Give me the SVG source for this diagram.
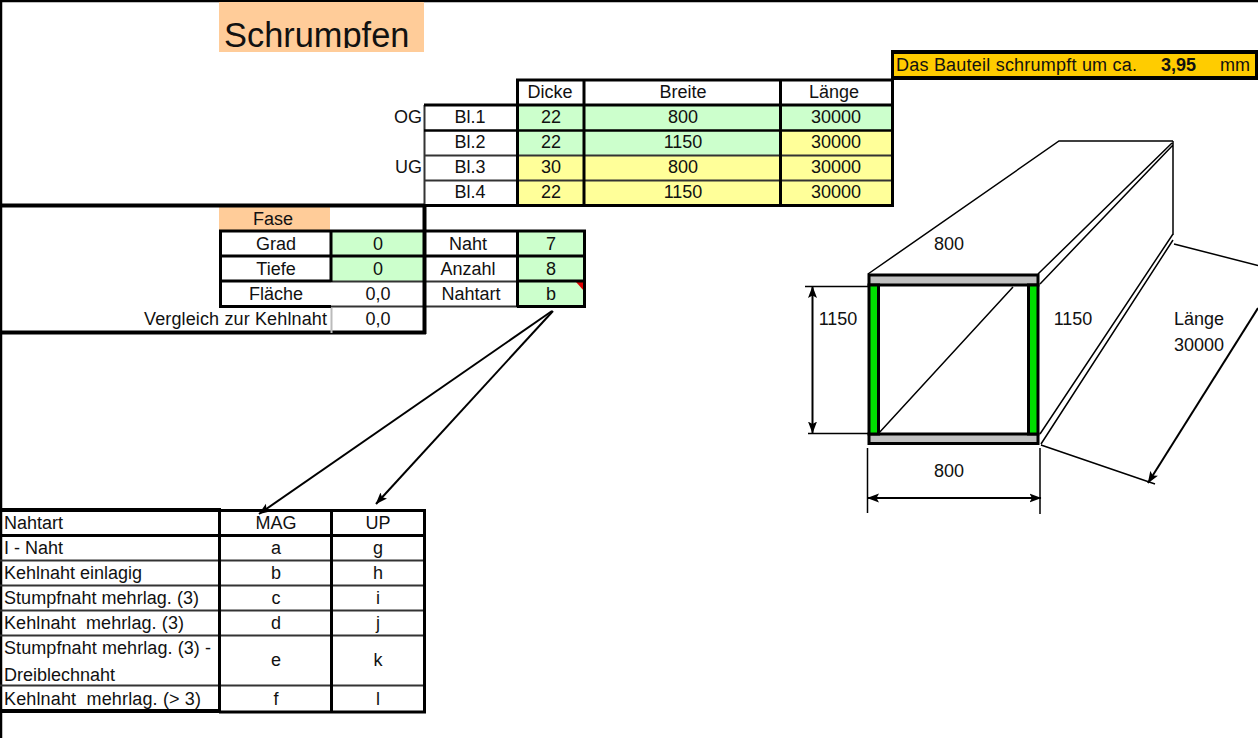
<svg xmlns="http://www.w3.org/2000/svg" width="1258" height="738" viewBox="0 0 1258 738">
<style>
text{font-family:"Liberation Sans",Arial,sans-serif;font-size:18px;fill:#111}
.m{text-anchor:middle}.e{text-anchor:end}
.g{fill:#ccffcc}.y{fill:#ffff99}.o{fill:#ffcc99}
.b3{stroke:#000;stroke-width:3;fill:none}
.b2{stroke:#000;stroke-width:2.400;fill:none}
.d2{stroke:#333;stroke-width:2;fill:none}
.b4{stroke:#000;stroke-width:4;fill:none}
.t{stroke:#000;stroke-width:1.500;fill:none}
.a{stroke:#000;stroke-width:2;fill:none}
</style>
<defs>
<clipPath id="tc"><rect x="219" y="2" width="205" height="46"/></clipPath>
<marker id="ah" viewBox="0 0 12 10" refX="11.500" refY="5" markerWidth="12" markerHeight="10" markerUnits="userSpaceOnUse" orient="auto-start-reverse"><path d="M0 0.500L12 5L0 9.500L2.500 5Z" fill="#000"/></marker>
</defs>
<rect width="1258" height="738" fill="#fff"/>
<g id="frame"><path d="M0 1H1258M1 0V738" stroke="#000" stroke-width="2.500" fill="none"/></g>

<g id="title"><rect class="o" x="219" y="2" width="205" height="50"/>
<text x="224" y="47" style="font-size:34.400px" clip-path="url(#tc)">Schrumpfen</text></g>

<g id="result">
<rect x="891" y="50" width="367" height="30" fill="#000"/>
<rect x="894" y="54" width="361" height="22" fill="#ffcc00"/>
<text x="896" y="71" textLength="241">Das Bauteil schrumpft um ca.</text>
<text x="1161" y="71" font-weight="bold">3,95</text>
<text x="1220" y="71">mm</text></g>

<g id="sheet-table">
<rect class="g" x="518" y="105" width="66" height="50"/>
<rect class="y" x="518" y="155" width="66" height="50"/>
<rect class="g" x="585" y="105" width="195" height="50"/>
<rect class="y" x="585" y="155" width="195" height="50"/>
<rect class="g" x="781" y="105" width="111" height="25"/>
<rect class="y" x="781" y="130" width="111" height="75"/>
<path class="d2" d="M424 155.500H892M424 180.500H892M424.500 105V205"/>
<path class="b2" d="M424 130.500H892"/>
<path class="b3" d="M516 80H894M424 105H894M424 205.500H894M517.500 80V206M584 80V206M780.500 80V206M892.500 80V206"/>
<text class="e" x="422" y="123">OG</text><text class="e" x="422" y="173">UG</text>
<text class="m" x="550" y="98">Dicke</text><text class="m" x="683" y="98">Breite</text><text class="m" x="834" y="98">Länge</text>
<text class="m" x="470" y="123">Bl.1</text><text class="m" x="551" y="123">22</text><text class="m" x="683" y="123">800</text><text class="m" x="836" y="123">30000</text>
<text class="m" x="470" y="148">Bl.2</text><text class="m" x="551" y="148">22</text><text class="m" x="683" y="148">1150</text><text class="m" x="836" y="148">30000</text>
<text class="m" x="470" y="173">Bl.3</text><text class="m" x="551" y="173">30</text><text class="m" x="683" y="173">800</text><text class="m" x="836" y="173">30000</text>
<text class="m" x="470" y="198">Bl.4</text><text class="m" x="551" y="198">22</text><text class="m" x="683" y="198">1150</text><text class="m" x="836" y="198">30000</text>
</g>

<g id="fase-table">
<rect class="o" x="219" y="207" width="111" height="24"/>
<rect class="g" x="332" y="232" width="92" height="49"/>
<rect class="g" x="518" y="232" width="66" height="74"/>
<path d="M576 282H584V291Z" fill="#e00000"/>
<path class="d2" d="M331 306.500H517"/>
<path class="d2" d="M331 281.500H517"/>
<path class="b4" d="M0 205.500H424M0 332.500H426M424.500 205V334"/>
<path class="b3" d="M219 231H586M219 256H586M219 281H331M517 281H586M219 306.500H331M517 306.500H586M220.500 230V308M331 231V282M517.500 231V307M584.500 230V308"/>
<path d="M331.500 308V333" stroke="#bbb" stroke-width="2"/>
<text class="m" x="273" y="225">Fase</text>
<text class="m" x="276" y="250">Grad</text><text class="m" x="378" y="250">0</text><text class="m" x="468" y="250">Naht</text><text class="m" x="551" y="250">7</text>
<text class="m" x="276" y="275">Tiefe</text><text class="m" x="378" y="275">0</text><text class="m" x="468" y="275">Anzahl</text><text class="m" x="551" y="275">8</text>
<text class="m" x="276" y="300">Fläche</text><text class="m" x="378" y="300">0,0</text><text class="m" x="471" y="300">Nahtart</text><text class="m" x="551" y="300">b</text>
<text x="144" y="325" textLength="183">Vergleich zur Kehlnaht</text><text class="m" x="378" y="325">0,0</text>
</g>

<g id="connectors">
<path class="a" marker-end="url(#ah)" d="M552 311L259 514"/>
<path class="a" marker-end="url(#ah)" d="M553 311L376 504"/>
</g>

<g id="weld-table">
<path class="d2" d="M0 560.500H425M0 585.500H425M0 610.500H425M0 635.500H425M0 685.500H425"/>
<path class="b4" d="M0 510H219M0 711H219"/>
<path class="b3" d="M219 510.500H426M0 535.500H426M219 712H426M219.500 508V713M331.500 510V713M424.500 510V713"/>
<text x="4" y="529">Nahtart</text><text class="m" x="276" y="529">MAG</text><text class="m" x="378" y="529">UP</text>
<text x="4" y="554">I - Naht</text><text class="m" x="276" y="554">a</text><text class="m" x="378" y="554">g</text>
<text x="4" y="579">Kehlnaht einlagig</text><text class="m" x="276" y="579">b</text><text class="m" x="378" y="579">h</text>
<text x="4" y="604" textLength="195">Stumpfnaht mehrlag. (3)</text><text class="m" x="276" y="604">c</text><text class="m" x="378" y="604">i</text>
<text x="4" y="629" textLength="180" xml:space="preserve">Kehlnaht  mehrlag. (3)</text><text class="m" x="276" y="629">d</text><text class="m" x="378" y="629">j</text>
<text x="4" y="654" textLength="207">Stumpfnaht mehrlag. (3) -</text><text x="4" y="681">Dreiblechnaht</text><text class="m" x="276" y="666">e</text><text class="m" x="378" y="666">k</text>
<text x="4" y="705" textLength="197" xml:space="preserve">Kehlnaht  mehrlag. (&gt; 3)</text><text class="m" x="276" y="705">f</text><text class="m" x="378" y="705">l</text>
</g>

<g id="drawing">
<rect x="869" y="275" width="169" height="10" fill="#c0c0c0" stroke="#000" stroke-width="3"/>
<rect x="869" y="434" width="169" height="9.500" fill="#c0c0c0" stroke="#000" stroke-width="3"/>
<rect x="869" y="285" width="9.500" height="149" fill="#00e000" stroke="#000" stroke-width="3"/>
<rect x="1028.500" y="285" width="9.500" height="149" fill="#00e000" stroke="#000" stroke-width="3"/>
<path class="t" d="M868 274L1059 141H1173M1038 274L1172 143M1040 284L1173 145M1173 141V235M1173 234L1040 434M1173 240L1041 444M1174 244L1258 265.500M1041 445L1155 484M878 434L1013 287"/>
<path class="t" d="M805 286.500H868M808 433.500H868M867.500 448V513M1040 448V514"/>
<path class="a" marker-start="url(#ah)" marker-end="url(#ah)" d="M812.500 286.500V433"/>
<path class="a" marker-start="url(#ah)" marker-end="url(#ah)" d="M867.500 498H1041"/>
<path class="a" marker-end="url(#ah)" d="M1258 308L1148 483"/>
<text class="m" x="949" y="250">800</text><text class="m" x="838" y="325">1150</text><text class="m" x="1073" y="325">1150</text><text class="m" x="949" y="477">800</text>
<text x="1174" y="325">Länge</text><text x="1174" y="351">30000</text>
</g>
</svg>
